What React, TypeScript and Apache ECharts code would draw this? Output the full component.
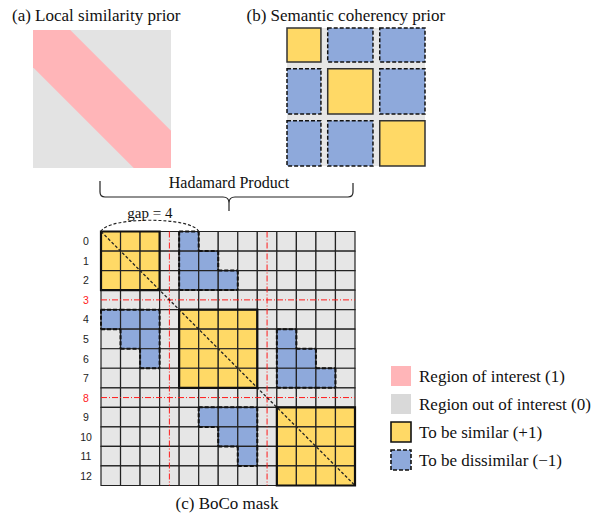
import React, { useEffect, useRef } from 'react';
import * as echarts from 'echarts';

// ---------- data ----------
const rowLabels = ['0', '1', '2', '3', '4', '5', '6', '7', '8', '9', '10', '11', '12'];
const gapIndices = [3, 8];
// yellow (to be similar) blocks: [start, end] on the diagonal
const yellowBlocks = [
  [0, 2],
  [4, 7],
  [9, 12],
];
// blue (to be dissimilar) cells: [row, col]
const blueCells = [
  [0, 4], [1, 4], [1, 5], [2, 4], [2, 5], [2, 6],
  [4, 0], [4, 1], [4, 2], [5, 1], [5, 2], [6, 2],
  [5, 9], [6, 9], [6, 10], [7, 9], [7, 10], [7, 11],
  [9, 5], [9, 6], [9, 7], [10, 6], [10, 7], [11, 7],
];
const gapArc = [[0, 4]]; // from col 0 to col 4
const gapLabel = 'gap = 4';
// local similarity band half-width (fraction of the side)
const localBandWidth = [0.27];
// semantic coherency prior: group sizes and block kinds [row, col, kind] (1 similar, -1 dissimilar)
const semanticGroupSizes = [3, 4, 4];
const semanticBlocks = [
  [0, 0, 1], [0, 1, -1], [0, 2, -1],
  [1, 0, -1], [1, 1, 1], [1, 2, -1],
  [2, 0, -1], [2, 1, -1], [2, 2, 1],
];
const legendLabels = [
  'Region of interest (1)',
  'Region out of interest (0)',
  'To be similar (+1)',
  'To be dissimilar (\u22121)',
];

// ---------- styles ----------
const YELLOW = '#FFD966';
const BLUE = '#8EA9DB';
const GRAY = '#E6E6E6';
const PINK = '#FFB5B8';
const LEGEND_GRAY = '#D9D9D9';
const RED = '#FF1A1A';
const SERIF = 'Liberation Serif';

echarts.graphic.registerShape(
  'brace',
  echarts.graphic.extendPath(
    'M100,181 L100,192 Q100,197 105,197 L223,197 Q229,197 229,203 L229,211 M229,203 Q229,197 235,197 L348,197 Q353,197 353,192 L353,183',
    {}
  )
);

function buildCells() {
  const n = rowLabels.length;
  const blueSet = new Set(blueCells.map(([r, c]) => r + '_' + c));
  const out: number[][] = [];
  for (let r = 0; r < n; r++) {
    for (let c = 0; c < n; c++) {
      let t = 0;
      for (const [a, b] of yellowBlocks) {
        if (r >= a && r <= b && c >= a && c <= b) t = 1;
      }
      if (blueSet.has(r + '_' + c)) t = 2;
      out.push([c, r, t]);
    }
  }
  return out;
}

function serifText(text: string, size: number, extra: any = {}) {
  return {
    text,
    fontFamily: SERIF,
    fontSize: size,
    fill: '#111',
    textVerticalAlign: 'middle',
    ...extra,
  };
}

export default function App() {
  const ref = useRef<HTMLDivElement>(null);

  useEffect(() => {
    if (!ref.current) return;
    const chart = echarts.init(ref.current, null, { renderer: 'svg' });
    const n = rowLabels.length;
    const blueSet = new Set(blueCells.map(([r, c]) => r + '_' + c));
    const cellColors = [GRAY, YELLOW, BLUE];

    const semGap = 0.6;
    const semTotal = semanticGroupSizes.reduce((a, b) => a + b, 0) + semGap * (semanticGroupSizes.length - 1);
    const semOffsets: number[] = [];
    {
      let acc = 0;
      semanticGroupSizes.forEach((s) => {
        semOffsets.push(acc);
        acc += s + semGap;
      });
    }

    const legendColors = [PINK, LEGEND_GRAY, YELLOW, BLUE];
    const legendGraphics: any[] = [];
    legendLabels.forEach((lab, i) => {
      const y = 366 + i * 28;
      legendGraphics.push({
        type: 'rect',
        shape: { x: 391, y, width: 20, height: 20 },
        style: {
          fill: legendColors[i],
          stroke: i >= 2 ? '#111' : 'none',
          lineWidth: i >= 2 ? 1.6 : 0,
          lineDash: i === 3 ? [4, 2] : null,
        },
      });
      legendGraphics.push({
        type: 'text',
        x: 419,
        y: y + 10,
        style: serifText(lab, 17),
      });
    });

    const option: any = {
      animation: false,
      grid: [
        { left: 101, top: 231.5, width: 254, height: 254 },
        { left: 33, top: 30, width: 138, height: 138 },
        { left: 287, top: 28, width: 138, height: 138 },
      ],
      xAxis: [
        { gridIndex: 0, type: 'category', data: rowLabels, show: false },
        { gridIndex: 1, type: 'value', min: 0, max: 1, show: false },
        { gridIndex: 2, type: 'value', min: 0, max: semTotal, show: false },
      ],
      yAxis: [
        {
          gridIndex: 0,
          type: 'category',
          data: rowLabels,
          inverse: true,
          axisLine: { show: false },
          axisTick: { show: false },
          splitLine: { show: false },
          axisLabel: {
            margin: 15,
            align: 'center',
            fontFamily: 'Liberation Sans',
            fontSize: 10.5,
            color: (v: string) => (gapIndices.includes(Number(v)) ? RED : '#222'),
          },
        },
        { gridIndex: 1, type: 'value', min: 0, max: 1, inverse: true, show: false },
        { gridIndex: 2, type: 'value', min: 0, max: semTotal, inverse: true, show: false },
      ],
      series: [
        // main cells
        {
          type: 'custom',
          xAxisIndex: 0,
          yAxisIndex: 0,
          z: 1,
          encode: { x: 0, y: 1 },
          data: buildCells(),
          renderItem: (params: any, api: any) => {
            const c = api.value(0);
            const r = api.value(1);
            const t = api.value(2);
            const p = api.coord([c, r]);
            const s = api.size([1, 1]);
            return {
              type: 'rect',
              shape: { x: p[0] - s[0] / 2, y: p[1] - s[1] / 2, width: s[0], height: s[1] },
              style: { fill: cellColors[t], stroke: '#222', lineWidth: 1.2 },
            };
          },
        },
        // red gap lines
        {
          type: 'custom',
          xAxisIndex: 0,
          yAxisIndex: 0,
          z: 2,
          encode: { x: 0, y: 0 },
          data: gapIndices.map((g) => [g]),
          renderItem: (params: any, api: any) => {
            const g = api.value(0);
            const s = api.size([1, 1]);
            const pg = api.coord([g, g]);
            const p0 = api.coord([0, 0]);
            const p1 = api.coord([n - 1, n - 1]);
            const style = { stroke: RED, lineWidth: 1, lineDash: [6, 2, 1, 2] };
            return {
              type: 'group',
              children: [
                {
                  type: 'line',
                  shape: { x1: p0[0] - s[0] / 2, y1: pg[1], x2: p1[0] + s[0] / 2, y2: pg[1] },
                  style,
                },
                {
                  type: 'line',
                  shape: { x1: pg[0], y1: p0[1] - s[1] / 2, x2: pg[0], y2: p1[1] + s[1] / 2 },
                  style,
                },
              ],
            };
          },
        },
        // diagonal
        {
          type: 'custom',
          xAxisIndex: 0,
          yAxisIndex: 0,
          z: 3,
          encode: { x: 0, y: 1 },
          data: [[0, n - 1]],
          renderItem: (params: any, api: any) => {
            const a = api.value(0);
            const b = api.value(1);
            const s = api.size([1, 1]);
            const p0 = api.coord([a, a]);
            const p1 = api.coord([b, b]);
            return {
              type: 'line',
              shape: { x1: p0[0] - s[0] / 2, y1: p0[1] - s[1] / 2, x2: p1[0] + s[0] / 2, y2: p1[1] + s[1] / 2 },
              style: { stroke: '#222', lineWidth: 1.3, lineDash: [3, 2] },
            };
          },
        },
        // blue outlines
        {
          type: 'custom',
          xAxisIndex: 0,
          yAxisIndex: 0,
          z: 4,
          encode: { x: 1, y: 0 },
          data: blueCells,
          renderItem: (params: any, api: any) => {
            const r = api.value(0);
            const c = api.value(1);
            const p = api.coord([c, r]);
            const s = api.size([1, 1]);
            const x0 = p[0] - s[0] / 2;
            const x1 = p[0] + s[0] / 2;
            const y0 = p[1] - s[1] / 2;
            const y1 = p[1] + s[1] / 2;
            const style = { stroke: '#111', lineWidth: 2, lineDash: [4, 2] };
            const children: any[] = [];
            if (!blueSet.has(r - 1 + '_' + c)) children.push({ type: 'line', shape: { x1: x0, y1: y0, x2: x1, y2: y0 }, style });
            if (!blueSet.has(r + 1 + '_' + c)) children.push({ type: 'line', shape: { x1: x0, y1: y1, x2: x1, y2: y1 }, style });
            if (!blueSet.has(r + '_' + (c - 1))) children.push({ type: 'line', shape: { x1: x0, y1: y0, x2: x0, y2: y1 }, style });
            if (!blueSet.has(r + '_' + (c + 1))) children.push({ type: 'line', shape: { x1: x1, y1: y0, x2: x1, y2: y1 }, style });
            return { type: 'group', children };
          },
        },
        // yellow block outlines
        {
          type: 'custom',
          xAxisIndex: 0,
          yAxisIndex: 0,
          z: 5,
          encode: { x: 0, y: 1 },
          data: yellowBlocks,
          renderItem: (params: any, api: any) => {
            const a = api.value(0);
            const b = api.value(1);
            const s = api.size([1, 1]);
            const p0 = api.coord([a, a]);
            const p1 = api.coord([b, b]);
            return {
              type: 'rect',
              shape: {
                x: p0[0] - s[0] / 2,
                y: p0[1] - s[1] / 2,
                width: p1[0] - p0[0] + s[0],
                height: p1[1] - p0[1] + s[1],
              },
              style: { fill: 'none', stroke: '#111', lineWidth: 2.2 },
            };
          },
        },
        // gap arc
        {
          type: 'custom',
          xAxisIndex: 0,
          yAxisIndex: 0,
          z: 5,
          encode: { x: 0 },
          data: gapArc,
          renderItem: (params: any, api: any) => {
            const a = api.value(0);
            const b = api.value(1);
            const s = api.size([1, 1]);
            const p0 = api.coord([a, 0]);
            const p1 = api.coord([b, 0]);
            const xa = p0[0] - s[0] / 2;
            const xb = p1[0] + s[0] / 2;
            const y = p0[1] - s[1] / 2;
            return {
              type: 'group',
              children: [
                {
                  type: 'bezierCurve',
                  shape: { x1: xa, y1: y, x2: xb, y2: y, cpx1: xa + 6, cpy1: y - 15, cpx2: xb - 6, cpy2: y - 15 },
                  style: { fill: 'none', stroke: '#222', lineWidth: 1.1, lineDash: [3, 2] },
                },
                {
                  type: 'text',
                  x: (xa + xb) / 2,
                  y: y - 19,
                  style: serifText(gapLabel, 15, { textAlign: 'center' }),
                },
              ],
            };
          },
        },
        // panel (a): local similarity prior
        {
          type: 'custom',
          xAxisIndex: 1,
          yAxisIndex: 1,
          encode: { x: 0, y: 1 },
          data: localBandWidth.map((w) => [0, 0, w]),
          renderItem: (params: any, api: any) => {
            const w = api.value(2);
            const pt = (x: number, y: number) => api.coord([x, y]);
            const tl = pt(0, 0);
            const br = pt(1, 1);
            return {
              type: 'group',
              children: [
                {
                  type: 'rect',
                  shape: { x: tl[0], y: tl[1], width: br[0] - tl[0], height: br[1] - tl[1] },
                  style: { fill: '#E3E3E3' },
                },
                {
                  type: 'polygon',
                  shape: {
                    points: [pt(0, 0), pt(w, 0), pt(1, 1 - w), pt(1, 1), pt(1 - w, 1), pt(0, w)],
                  },
                  style: { fill: PINK },
                },
              ],
            };
          },
        },
        // panel (b): background
        {
          type: 'custom',
          xAxisIndex: 2,
          yAxisIndex: 2,
          encode: { x: 0, y: 1 },
          data: [[0, 0]],
          renderItem: (params: any, api: any) => {
            const tl = api.coord([0, 0]);
            const br = api.coord([semTotal, semTotal]);
            return {
              type: 'rect',
              shape: { x: tl[0], y: tl[1], width: br[0] - tl[0], height: br[1] - tl[1] },
              style: { fill: GRAY },
            };
          },
        },
        // panel (b): blocks
        {
          type: 'custom',
          xAxisIndex: 2,
          yAxisIndex: 2,
          encode: { x: 1, y: 0 },
          data: semanticBlocks,
          renderItem: (params: any, api: any) => {
            const i = api.value(0);
            const j = api.value(1);
            const k = api.value(2);
            const tl = api.coord([semOffsets[j], semOffsets[i]]);
            const br = api.coord([semOffsets[j] + semanticGroupSizes[j], semOffsets[i] + semanticGroupSizes[i]]);
            return {
              type: 'rect',
              shape: { x: tl[0], y: tl[1], width: br[0] - tl[0], height: br[1] - tl[1] },
              style: {
                fill: k > 0 ? YELLOW : BLUE,
                stroke: k > 0 ? '#333' : '#111',
                lineWidth: 1.5,
                lineDash: k > 0 ? null : [4, 2],
              },
            };
          },
        },
      ],
      graphic: [
        { type: 'text', x: 12, y: 15, style: serifText('(a) Local similarity prior', 17) },
        { type: 'text', x: 246.5, y: 15, style: serifText('(b) Semantic coherency prior', 17) },
        {
          type: 'brace',
          x: 0,
          y: 0,
          style: { fill: 'none', stroke: '#222', lineWidth: 1.2 },
        },
        { type: 'text', x: 229, y: 182, style: serifText('Hadamard Product', 16, { textAlign: 'center' }) },
        { type: 'text', x: 227, y: 503, style: serifText('(c) BoCo mask', 17, { textAlign: 'center' }) },
        ...legendGraphics,
      ],
    };

    chart.setOption(option);
    return () => chart.dispose();
  }, []);

  return (
    <div
      ref={ref}
      style={{ position: 'fixed', left: 0, top: 0, width: 610, height: 515, background: '#fff' }}
    />
  );
}
